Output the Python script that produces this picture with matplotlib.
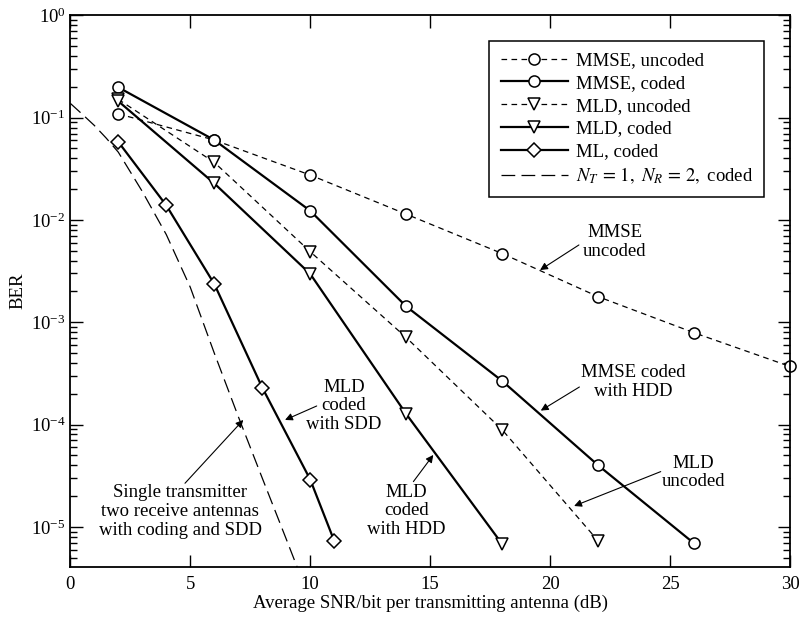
import matplotlib
matplotlib.use("Agg")
import matplotlib.pyplot as plt
from matplotlib.ticker import LogLocator, NullFormatter, FixedLocator

plt.rcParams['font.family'] = ['Liberation Serif', 'DejaVu Serif']
plt.rcParams['mathtext.fontset'] = 'stix'

# ---- data ----
snr = [2, 6, 10, 14, 18, 22, 26, 30]
mmse_uncoded = [0.109, 0.0605, 0.0275, 0.0114, 0.0047, 0.00178, 0.00079, 0.00037]
snr_mmse_coded = [2, 6, 10, 14, 18, 22, 26]
mmse_coded = [0.198, 0.0605, 0.0123, 0.00143, 0.000267, 0.000040, 0.0000069]
snr_mld = [2, 6, 10, 14, 18, 22]
mld_uncoded = [0.151, 0.0366, 0.0049, 0.00071, 0.000089, 0.0000073]
snr_mld_coded = [2, 6, 10, 14, 18]
mld_coded = [0.145, 0.0228, 0.00297, 0.000127, 0.0000068]
snr_ml = [2, 4, 6, 8, 10, 11]
ml_coded = [0.058, 0.0139, 0.00237, 0.00023, 0.000029, 0.0000073]
snr_single = [0, 0.5, 1, 1.5, 2, 3, 4, 5, 6, 7, 8, 9, 9.5, 10]
single = [0.138, 0.108, 0.084, 0.063, 0.046, 0.019, 0.0072, 0.0022, 0.0005, 0.00012,
          0.00003, 0.0000076, 0.0000038, 0.0000019]

labels = ['MMSE, uncoded', 'MMSE, coded', 'MLD, uncoded', 'MLD, coded',
          'ML, coded', r'$N_T\,=\,1,\ N_R\,=\,2,$ coded']
xticks = [0, 5, 10, 15, 20, 25, 30]

fig = plt.figure(figsize=(8.01, 6.18), dpi=100)
ax = fig.add_axes([0.0878, 0.0830, 0.9863 - 0.0878, 0.9751 - 0.0830])

short_dash = (0, (4.5, 3.5))
long_dash = (0, (11, 5))
mk = dict(markerfacecolor='white', markeredgecolor='black', markeredgewidth=1.1)

ax.plot(snr, mmse_uncoded, color='black', lw=0.9, ls=short_dash, marker='o', ms=8, label=labels[0], clip_on=False, **mk)
ax.plot(snr_mmse_coded, mmse_coded, color='black', lw=1.6, ls='-', marker='o', ms=8, label=labels[1], **mk)
ax.plot(snr_mld, mld_uncoded, color='black', lw=0.9, ls=short_dash, marker='v', ms=9, label=labels[2], **mk)
ax.plot(snr_mld_coded, mld_coded, color='black', lw=1.6, ls='-', marker='v', ms=9, label=labels[3], **mk)
ax.plot(snr_ml, ml_coded, color='black', lw=1.6, ls='-', marker='D', ms=7.5, label=labels[4], **mk)
ax.plot(snr_single, single, color='black', lw=0.9, ls=long_dash, label=labels[5])

ax.set_yscale('log')
ax.set_xlim(0, 30)
ax.set_ylim(4.08e-6, 1)
ax.xaxis.set_major_locator(FixedLocator(xticks))
ax.yaxis.set_major_locator(LogLocator(base=10, numticks=10))
ax.yaxis.set_minor_locator(LogLocator(base=10, subs=range(2, 10), numticks=50))
ax.yaxis.set_minor_formatter(NullFormatter())
ax.tick_params(which='both', direction='in', top=True, right=True, labelsize=13.5, width=1.0)
ax.tick_params(which='major', length=9)
ax.tick_params(which='minor', length=5)
ax.tick_params(axis='x', pad=7)
for s in ax.spines.values():
    s.set_linewidth(1.3)

ax.set_xlabel('Average SNR/bit per transmitting antenna (dB)', fontsize=13.5, labelpad=1)
ax.set_ylabel('BER', fontsize=13.5, labelpad=3)

leg = ax.legend(loc='upper right', bbox_to_anchor=(0.964, 0.954), borderaxespad=0,
                fontsize=13.5, handlelength=3.6, fancybox=False, edgecolor='black',
                framealpha=1, labelspacing=0.3, borderpad=0.6, handletextpad=0.4)
leg.get_frame().set_linewidth(1.1)

arrow = dict(arrowstyle='-|>', color='black', lw=0.8, mutation_scale=11, shrinkA=0, shrinkB=0)
notes = [
    ('MMSE\nuncoded', (22.7, 6.1e-3), (21.2, 5.7e-3), (19.58, 3.24e-3)),
    ('MMSE coded\nwith HDD', (23.47, 2.6e-4), (21.22, 2.33e-4), (19.61, 1.37e-4)),
    ('MLD\nuncoded', (25.97, 3.4e-5), (24.61, 3.47e-5), (21.0, 1.6e-5)),
    ('MLD\ncoded\nwith HDD', (14.02, 1.43e-5), (14.3, 2.77e-5), (15.13, 5.05e-5)),
    ('MLD\ncoded\nwith SDD', (11.41, 1.52e-4), (10.27, 1.52e-4), (8.95, 1.11e-4)),
    ('Single transmitter\ntwo receive antennas\nwith coding and SDD', (4.58, 1.41e-5), (4.78, 2.67e-5), (7.21, 1.11e-4)),
]
for txt, pos, tail, head in notes:
    ax.text(pos[0], pos[1], txt, ha='center', va='center', fontsize=13.5, linespacing=1.15)
    ax.annotate('', xy=head, xytext=tail, arrowprops=arrow)

fig.savefig('out.png', dpi=100)
